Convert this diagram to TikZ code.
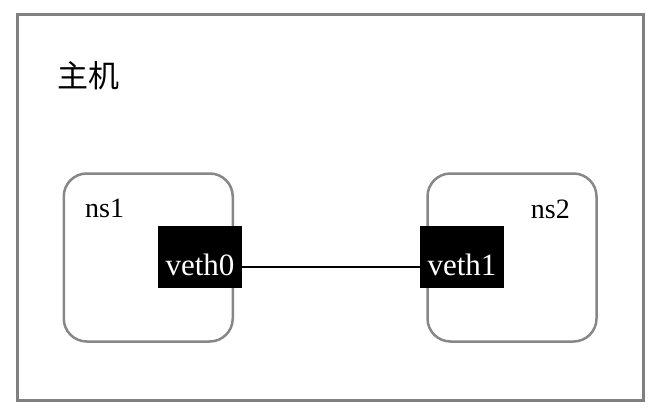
\documentclass[tikz,border=0pt]{standalone}
\usepackage{fontspec}
\setmainfont{Liberation Serif}
\newfontfamily\cjk{Noto Sans CJK SC}
\definecolor{framegray}{RGB}{128,128,128}
\definecolor{nsgray}{RGB}{135,135,135}

\begin{document}
\begin{tikzpicture}[x=1pt,y=-1pt,
    nsbox/.style={draw=nsgray, line width=2.5pt, rounded corners=23pt, minimum width=169pt, minimum height=168pt},
    nslabel/.style={inner sep=0pt, font=\fontsize{28}{32}\selectfont},
    vethbox/.style={fill=black, text=white, minimum width=84pt, minimum height=62pt, inner sep=0pt, text height=36pt, text depth=0pt, font=\fontsize{31}{36}\selectfont},
    link/.style={line width=2.3pt}]
    \useasboundingbox (0,0) rectangle (660,412);

    % Host
    \draw[framegray, line width=3pt] (17.5,14.5) rectangle (643.5,400.5);
    \node (host) at (88,76) {\cjk\fontsize{31}{36}\selectfont 主机};

    % Namespaces
    \node[nsbox] (ns1) at (148.25,257.5) {};
    \node[nsbox] (ns2) at (512,257.5) {};
    \node[nslabel, anchor=base west] (ns1label) at (85,217) {ns1};
    \node[nslabel, anchor=base east] (ns2label) at (570,218) {ns2};

    % veth pair
    \node[vethbox] (veth0) at (200,257) {veth0};
    \node[vethbox] (veth1) at (462,257) {veth1};
    \draw[link] ([yshift=-10pt]veth0.east) -- ([yshift=-10pt]veth1.west);

\end{tikzpicture}
\end{document}
